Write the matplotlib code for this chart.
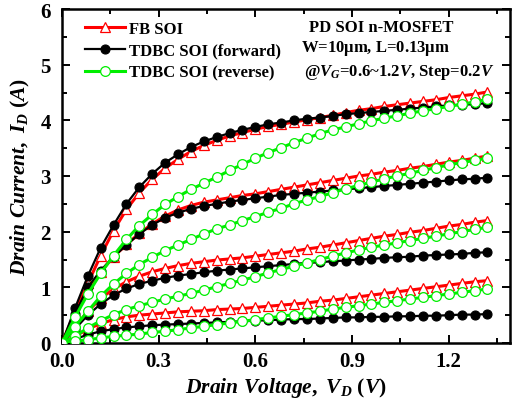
import matplotlib
matplotlib.use("Agg")
import matplotlib.pyplot as plt
from matplotlib.ticker import MultipleLocator

plt.rcParams['font.family'] = ['Liberation Serif', 'DejaVu Serif']
plt.rcParams['font.weight'] = 'bold'
plt.rcParams['mathtext.fontset'] = 'custom'
plt.rcParams['mathtext.rm'] = 'Liberation Serif:bold'
plt.rcParams['mathtext.it'] = 'Liberation Serif:italic:bold'
plt.rcParams['mathtext.bf'] = 'Liberation Serif:bold'

# Drain voltage sweep (V)
vd = [0.00, 0.04, 0.08, 0.12, 0.16, 0.20, 0.24, 0.28, 0.32, 0.36, 0.40, 0.44,
      0.48, 0.52, 0.56, 0.60, 0.64, 0.68, 0.72, 0.76, 0.80, 0.84, 0.88, 0.92,
      0.96, 1.00, 1.04, 1.08, 1.12, 1.16, 1.20, 1.24, 1.28, 1.32]

# FB SOI, VG = 1.2, 1.0, 0.8, 0.6 V
fb_12 = [0.00, 0.55, 1.07, 1.57, 2.02, 2.40, 2.70, 2.94, 3.14, 3.30, 3.44, 3.55,
         3.64, 3.72, 3.78, 3.84, 3.89, 3.93, 3.97, 4.01, 4.05, 4.09, 4.14, 4.18,
         4.21, 4.25, 4.28, 4.31, 4.34, 4.37, 4.41, 4.44, 4.47, 4.51]
fb_10 = [0.00, 0.50, 0.97, 1.28, 1.55, 1.77, 1.97, 2.14, 2.28, 2.39, 2.47, 2.53,
         2.57, 2.61, 2.65, 2.68, 2.72, 2.76, 2.80, 2.84, 2.88, 2.92, 2.96, 3.00,
         3.03, 3.07, 3.10, 3.14, 3.17, 3.21, 3.25, 3.28, 3.32, 3.36]
fb_08 = [0.00, 0.28, 0.57, 0.80, 0.97, 1.10, 1.20, 1.28, 1.34, 1.39, 1.43, 1.46,
         1.49, 1.51, 1.53, 1.56, 1.59, 1.62, 1.65, 1.69, 1.72, 1.76, 1.80, 1.84,
         1.88, 1.92, 1.95, 1.99, 2.02, 2.06, 2.10, 2.13, 2.17, 2.20]
fb_06 = [0.00, 0.12, 0.25, 0.35, 0.42, 0.47, 0.50, 0.52, 0.54, 0.56, 0.57, 0.58,
         0.60, 0.61, 0.62, 0.64, 0.66, 0.68, 0.70, 0.72, 0.75, 0.77, 0.80, 0.83,
         0.86, 0.89, 0.92, 0.95, 0.98, 1.01, 1.04, 1.07, 1.10, 1.12]

# TDBC SOI, forward sweep
fw_12 = [0.00, 0.62, 1.20, 1.71, 2.12, 2.50, 2.80, 3.04, 3.24, 3.39, 3.52, 3.62,
         3.70, 3.77, 3.83, 3.88, 3.93, 3.96, 4.00, 4.03, 4.05, 4.08, 4.11, 4.13,
         4.15, 4.17, 4.19, 4.21, 4.23, 4.25, 4.27, 4.28, 4.29, 4.31]
fw_10 = [0.00, 0.52, 1.00, 1.30, 1.55, 1.76, 1.96, 2.12, 2.25, 2.34, 2.41, 2.46,
         2.50, 2.54, 2.57, 2.60, 2.63, 2.66, 2.68, 2.70, 2.72, 2.74, 2.76, 2.78,
         2.80, 2.82, 2.84, 2.86, 2.88, 2.90, 2.92, 2.94, 2.95, 2.97]
fw_08 = [0.00, 0.25, 0.50, 0.70, 0.86, 0.98, 1.06, 1.12, 1.17, 1.21, 1.24, 1.27,
         1.30, 1.32, 1.34, 1.36, 1.38, 1.40, 1.42, 1.44, 1.45, 1.47, 1.48, 1.50,
         1.51, 1.53, 1.54, 1.55, 1.57, 1.58, 1.59, 1.60, 1.62, 1.63]
fw_06 = [0.00, 0.07, 0.15, 0.21, 0.25, 0.28, 0.30, 0.32, 0.33, 0.34, 0.35, 0.36,
         0.37, 0.38, 0.39, 0.40, 0.41, 0.42, 0.43, 0.43, 0.44, 0.45, 0.46, 0.46,
         0.47, 0.47, 0.48, 0.48, 0.49, 0.49, 0.50, 0.51, 0.51, 0.52]

# TDBC SOI, reverse sweep
rv_12 = [0.00, 0.46, 0.88, 1.25, 1.57, 1.86, 2.11, 2.31, 2.49, 2.63, 2.76, 2.87,
         2.98, 3.10, 3.21, 3.32, 3.42, 3.51, 3.60, 3.68, 3.76, 3.83, 3.88, 3.94,
         3.99, 4.04, 4.08, 4.13, 4.17, 4.21, 4.25, 4.29, 4.33, 4.38]
rv_10 = [0.00, 0.29, 0.57, 0.84, 1.06, 1.25, 1.41, 1.54, 1.66, 1.76, 1.86, 1.96,
         2.05, 2.12, 2.20, 2.27, 2.35, 2.42, 2.50, 2.57, 2.63, 2.70, 2.77, 2.83,
         2.89, 2.95, 3.00, 3.05, 3.10, 3.15, 3.20, 3.24, 3.28, 3.32]
rv_08 = [0.00, 0.12, 0.27, 0.40, 0.51, 0.60, 0.67, 0.73, 0.79, 0.84, 0.89, 0.95,
         1.01, 1.07, 1.13, 1.19, 1.26, 1.32, 1.38, 1.44, 1.50, 1.56, 1.62, 1.67,
         1.72, 1.76, 1.80, 1.84, 1.88, 1.92, 1.96, 2.00, 2.04, 2.08]
rv_06 = [0.00, 0.03, 0.06, 0.09, 0.12, 0.14, 0.16, 0.19, 0.21, 0.24, 0.27, 0.30,
         0.33, 0.36, 0.39, 0.42, 0.45, 0.48, 0.51, 0.54, 0.57, 0.61, 0.64, 0.67,
         0.70, 0.73, 0.76, 0.79, 0.82, 0.85, 0.88, 0.91, 0.94, 0.97]

labels = ['FB SOI', 'TDBC SOI (forward)', 'TDBC SOI (reverse)']

RED = '#ff0000'
BLACK = '#000000'
GREEN = '#00ee00'

fig = plt.figure(figsize=(5.16, 4.02), dpi=100)
ax = fig.add_axes([62/516, 58/402, 448/516, 334/402])

red_kw = dict(color=RED, lw=2.2, marker='^', ms=7.5, mfc='white', mec=RED, mew=0.9)
blk_kw = dict(color=BLACK, lw=1.6, marker='o', ms=6.5, mfc=BLACK, mec=BLACK, mew=0.8)
grn_kw = dict(color=GREEN, lw=2.2, marker='o', ms=7.0, mfc='white', mec=GREEN, mew=0.9)

for i, (r, b, g) in enumerate([(fb_12, fw_12, rv_12), (fb_10, fw_10, rv_10),
                               (fb_08, fw_08, rv_08), (fb_06, fw_06, rv_06)]):
    ax.plot(vd, r, label=labels[0] if i == 0 else None, zorder=3, **red_kw)
    ax.plot(vd, b, label=labels[1] if i == 0 else None, zorder=4, **blk_kw)
    ax.plot(vd, g, label=labels[2] if i == 0 else None, zorder=5, **grn_kw)

ax.set_xlim(0, 1.39)
ax.set_ylim(0, 6)
ax.xaxis.set_major_locator(MultipleLocator(0.3))
ax.xaxis.set_minor_locator(MultipleLocator(0.15))
ax.yaxis.set_major_locator(MultipleLocator(1))
ax.yaxis.set_minor_locator(MultipleLocator(0.5))
ax.xaxis.set_major_formatter(plt.FormatStrFormatter('%.1f'))
ax.tick_params(which='both', direction='in', top=True, right=True, width=1.4,
               labelsize=15)
ax.tick_params(axis='x', pad=6)
ax.tick_params(axis='y', pad=8)
ax.tick_params(which='major', length=6)
ax.tick_params(which='minor', length=3.5)
for s in ax.spines.values():
    s.set_linewidth(1.8)

ax.set_xlabel(r'$\it{Drain\ Voltage,\ V_D\ (V)}$', fontsize=15.5, labelpad=3)
ax.set_ylabel(r'$\it{Drain\ Current,\ I_D\ (A)}$', fontsize=15.5, labelpad=6)

ax.legend(loc='upper left', bbox_to_anchor=(0.03, 0.995), frameon=False,
          fontsize=12, numpoints=1, handlelength=2.4, handletextpad=0.24,
          labelspacing=0.35, borderaxespad=0.2)

ax.text(0.712, 0.934, 'PD SOI n-MOSFET', transform=ax.transAxes, fontsize=12,
        ha='center', va='baseline')
ax.text(0.699, 0.874, r'W=10$\mathrm{\mu}$m, L=0.13$\mathrm{\mu}$m',
        transform=ax.transAxes, fontsize=12, ha='center', va='baseline')
ax.text(0.752, 0.802, r'@$V_G$=0.6~1.2$V$, Step=0.2$V$', transform=ax.transAxes,
        fontsize=12, ha='center', va='baseline')

fig.savefig('out.png', dpi=100)
